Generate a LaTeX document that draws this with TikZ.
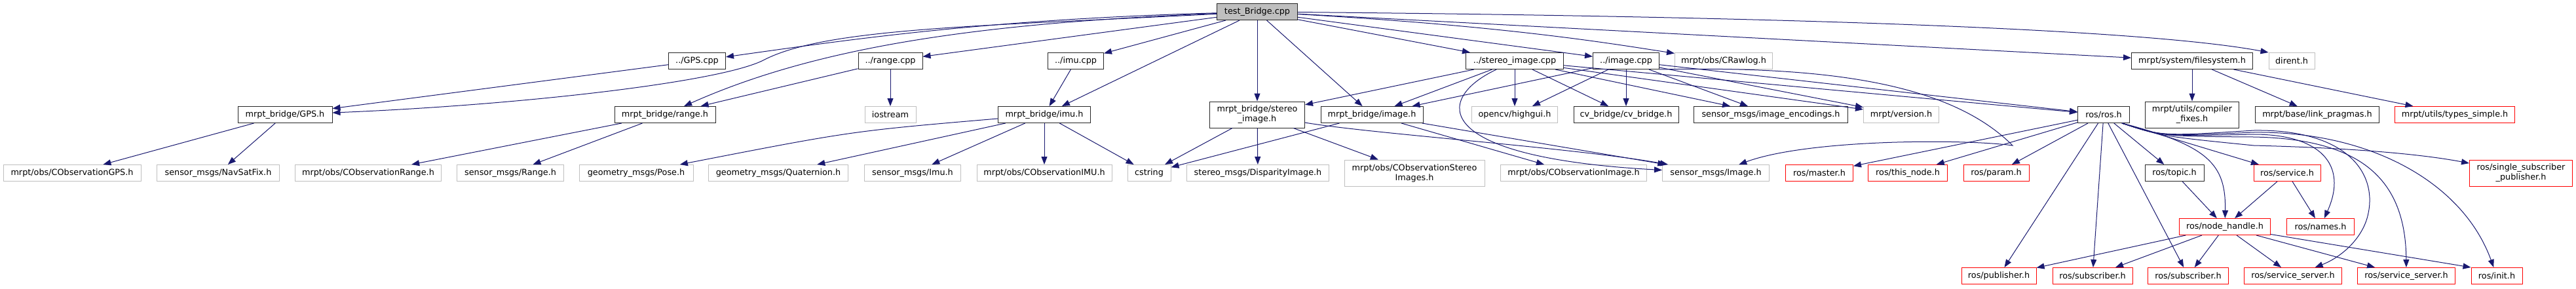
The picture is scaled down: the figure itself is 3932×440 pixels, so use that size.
\documentclass[tikz,border=0pt]{standalone}
\usepackage{fontspec}
\setmainfont{DejaVu Sans}
\usetikzlibrary{arrows.meta}
\definecolor{edgeblue}{HTML}{191970}
\definecolor{nodegrey}{HTML}{BFBFBF}

\begin{document}
\begin{tikzpicture}[x=1pt,y=-1pt,
    every node/.style={font=\fontsize{12.8}{15}\selectfont,minimum height=25pt,inner sep=3pt,align=center,line width=1pt},
    docfile/.style={draw=black!85},
    extfile/.style={draw=nodegrey},
    cutfile/.style={draw=red},
    incl/.style={draw=edgeblue,line width=1pt,-{Triangle[length=12pt,width=9pt]}}]
  \path[use as bounding box,fill=white] (0,0) rectangle (3932,440);

  % the test file and the sources it pulls in
  \node[docfile,fill=nodegrey,minimum width=123pt] (tb) at (1919,18) {test\_Bridge.cpp};
  \node[docfile,minimum width=87pt] (gpscpp) at (1064,93) {../GPS.cpp};
  \node[docfile,minimum width=98pt] (rangecpp) at (1359,93) {../range.cpp};
  \node[docfile,minimum width=85pt] (imucpp) at (1642,93) {../imu.cpp};
  \node[docfile,minimum width=149pt] (stereocpp) at (2312,93) {../stereo\_image.cpp};
  \node[docfile,minimum width=101pt] (imagecpp) at (2482,93) {../image.cpp};
  \node[extfile,minimum width=149pt] (crawlog) at (2631,93) {mrpt/obs/CRawlog.h};
  \node[docfile,minimum width=185pt] (filesys) at (3346,93) {mrpt/system/filesystem.h};
  \node[extfile,minimum width=70pt] (dirent) at (3498,93) {dirent.h};

  % second row
  \node[docfile,minimum width=144pt] (gpsh) at (435,175) {mrpt\_bridge/GPS.h};
  \node[docfile,minimum width=154pt] (rangeh) at (1015,175) {mrpt\_bridge/range.h};
  \node[extfile,minimum width=78pt] (iostream) at (1359,175) {iostream};
  \node[docfile,minimum width=141pt] (imuh) at (1594,175) {mrpt\_bridge/imu.h};
  \node[docfile,minimum width=145pt,minimum height=40pt] (stereoh) at (1919,175) {mrpt\_bridge/stereo\\\_image.h};
  \node[docfile,minimum width=156pt] (imageh) at (2094,175) {mrpt\_bridge/image.h};
  \node[extfile,minimum width=131pt] (highgui) at (2312,175) {opencv/highgui.h};
  \node[docfile,minimum width=160pt] (cvbridge) at (2482,175) {cv\_bridge/cv\_bridge.h};
  \node[docfile,minimum width=235pt] (encodings) at (2703,175) {sensor\_msgs/image\_encodings.h};
  \node[extfile,minimum width=115pt] (version) at (2902,175) {mrpt/version.h};
  \node[docfile,minimum width=79pt] (rosh) at (3211,175) {ros/ros.h};
  \node[docfile,minimum width=143pt,minimum height=40pt] (compfix) at (3346,175) {mrpt/utils/compiler\\\_fixes.h};
  \node[docfile,minimum width=189pt] (linkprag) at (3537,175) {mrpt/base/link\_pragmas.h};
  \node[cutfile,minimum width=183pt] (typessimple) at (3747,175) {mrpt/utils/types\_simple.h};

  % third row
  \node[extfile,minimum width=210pt] (obsgps) at (110,264) {mrpt/obs/CObservationGPS.h};
  \node[extfile,minimum width=187pt] (navsat) at (333,264) {sensor\_msgs/NavSatFix.h};
  \node[extfile,minimum width=223pt] (obsrange) at (562,264) {mrpt/obs/CObservationRange.h};
  \node[extfile,minimum width=163pt] (rangemsg) at (779,264) {sensor\_msgs/Range.h};
  \node[extfile,minimum width=174pt] (pose) at (971,264) {geometry\_msgs/Pose.h};
  \node[extfile,minimum width=213pt] (quat) at (1188,264) {geometry\_msgs/Quaternion.h};
  \node[extfile,minimum width=147pt] (imumsg) at (1393,264) {sensor\_msgs/Imu.h};
  \node[extfile,minimum width=206pt] (obsimu) at (1594,264) {mrpt/obs/CObservationIMU.h};
  \node[extfile,minimum width=66pt] (cstring) at (1754,264) {cstring};
  \node[extfile,minimum width=217pt] (disparity) at (1920,264) {stereo\_msgs/DisparityImage.h};
  \node[extfile,minimum width=214pt,minimum height=40pt] (obsstereo) at (2159,264) {mrpt/obs/CObservationStereo\\Images.h};
  \node[extfile,minimum width=223pt] (obsimage) at (2402,264) {mrpt/obs/CObservationImage.h};
  \node[extfile,minimum width=163pt] (imagemsg) at (2619,264) {sensor\_msgs/Image.h};
  \node[cutfile,minimum width=103pt] (master) at (2777,264) {ros/master.h};
  \node[cutfile,minimum width=121pt] (thisnode) at (2912,264) {ros/this\_node.h};
  \node[cutfile,minimum width=100pt] (param) at (3047,264) {ros/param.h};
  \node[docfile,minimum width=90pt] (topic) at (3319,264) {ros/topic.h};
  \node[cutfile,minimum width=102pt] (service) at (3491,264) {ros/service.h};
  \node[cutfile,minimum width=157pt,minimum height=40pt] (singlesub) at (3848,264) {ros/single\_subscriber\\\_publisher.h};

  % lower ros rows
  \node[cutfile,minimum width=139pt] (nodehandle) at (3396,346) {ros/node\_handle.h};
  \node[cutfile,minimum width=103pt] (names) at (3542,346) {ros/names.h};
  \node[cutfile,minimum width=114pt] (publisher) at (3051,421) {ros/publisher.h};
  \node[cutfile,minimum width=122pt] (sub1) at (3194,421) {ros/subscriber.h};
  \node[cutfile,minimum width=123pt] (sub2) at (3340,421) {ros/subscriber.h};
  \node[cutfile,minimum width=149pt] (srv1) at (3500,421) {ros/service\_server.h};
  \node[cutfile,minimum width=149pt] (srv2) at (3673,421) {ros/service\_server.h};
  \node[cutfile,minimum width=78pt] (init) at (3811,421) {ros/init.h};

  % includes of test_Bridge.cpp
  \draw[incl] (tb) .. controls (1500,30) and (1300,60) .. (gpscpp);
  \draw[incl] (tb) .. controls (1500,40) and (1260,42) .. (1165,92) .. controls (1100,125) and (800,160) .. (gpsh);
  \draw[incl] (tb) .. controls (1500,35) and (1250,70) .. (rangeh);
  \draw[incl] (tb) -- (rangecpp);
  \draw[incl] (tb) -- (imucpp);
  \draw[incl] (tb) -- (imuh);
  \draw[incl] (tb) -- (stereoh);
  \draw[incl] (tb) -- (imageh);
  \draw[incl] (tb) -- (stereocpp);
  \draw[incl] (tb) -- (imagecpp);
  \draw[incl] (tb) .. controls (2300,40) and (2450,65) .. (crawlog);
  \draw[incl] (tb) -- (filesys);
  \draw[incl] (tb) .. controls (2600,24) and (3250,40) .. (dirent.north west);

  % includes of the .cpp files
  \draw[incl] (gpscpp) -- (gpsh);
  \draw[incl] (rangecpp) -- (rangeh);
  \draw[incl] (rangecpp) -- (iostream);
  \draw[incl] (imucpp) -- (imuh);
  \draw[incl] (stereocpp) -- (stereoh);
  \draw[incl] (stereocpp) -- (imageh);
  \draw[incl] (stereocpp) -- (highgui);
  \draw[incl] (stereocpp) -- (cvbridge);
  \draw[incl] (stereocpp) -- (encodings);
  \draw[incl] (stereocpp) -- (version);
  \draw[incl] (stereocpp) -- (rosh);
  \draw[incl] (stereocpp) .. controls (2190,150) and (2180,240) .. (imagemsg);
  \draw[incl] (imagecpp) -- (imageh);
  \draw[incl] (imagecpp) -- (highgui);
  \draw[incl] (imagecpp) -- (cvbridge);
  \draw[incl] (imagecpp) -- (encodings);
  \draw[incl] (imagecpp) -- (version);
  \draw[incl] (imagecpp) -- (rosh);
  \draw[incl] (imagecpp.south east) .. controls (2800,100) and (2980,130) .. (3072,222) .. controls (3000,212) and (2760,212) .. (imagemsg);

  % includes of the bridge headers
  \draw[incl] (gpsh) -- (obsgps);
  \draw[incl] (gpsh) -- (navsat);
  \draw[incl] (rangeh) -- (obsrange);
  \draw[incl] (rangeh) -- (rangemsg);
  \draw[incl] (imuh) .. controls (1300,200) .. (pose);
  \draw[incl] (imuh) -- (quat);
  \draw[incl] (imuh) -- (imumsg);
  \draw[incl] (imuh) -- (obsimu);
  \draw[incl] (imuh) -- (cstring);
  \draw[incl] (stereoh) -- (cstring);
  \draw[incl] (stereoh) -- (disparity);
  \draw[incl] (stereoh) -- (obsstereo);
  \draw[incl] (stereoh) .. controls (2100,205) and (2400,225) .. (imagemsg);
  \draw[incl] (imageh) -- (cstring);
  \draw[incl] (imageh) -- (obsimage);
  \draw[incl] (imageh) -- (imagemsg);

  % mrpt system header
  \draw[incl] (filesys) -- (compfix);
  \draw[incl] (filesys) -- (linkprag);
  \draw[incl] (filesys) -- (typessimple);

  % ros headers
  \draw[incl] (rosh) -- (master);
  \draw[incl] (rosh) -- (thisnode);
  \draw[incl] (rosh) -- (param);
  \draw[incl] (rosh) -- (publisher);
  \draw[incl] (rosh) -- (sub1);
  \draw[incl] (rosh) -- (sub2);
  \draw[incl] (rosh) -- (topic);
  \draw[incl] ([xshift=-12pt]rosh.south east) .. controls (3370,222) and (3398,250) .. (nodehandle);
  \draw[incl] ([xshift=-12pt]rosh.south east) -- (service);
  \draw[incl] ([xshift=-12pt]rosh.south east) .. controls (3300,208) .. (3440,205) .. controls (3540,205) and (3585,250) .. (names);
  \draw[incl] ([xshift=-12pt]rosh.south east) .. controls (3300,208) .. (3440,199) .. controls (3580,197) and (3628,262) .. (3615,325) .. controls (3608,362) and (3575,392) .. (srv1);
  \draw[incl] ([xshift=-12pt]rosh.south east) .. controls (3300,208) .. (3440,209) .. controls (3600,212) and (3672,270) .. (srv2);
  \draw[incl] ([xshift=-12pt]rosh.south east) .. controls (3300,208) .. (3440,202) .. controls (3620,200) and (3760,280) .. (init);
  \draw[incl] ([xshift=-12pt]rosh.south east) .. controls (3300,208) .. (3440,222) .. controls (3600,226) and (3700,236) .. (singlesub);
  \draw[incl] (topic) -- (nodehandle);
  \draw[incl] (service) -- (nodehandle);
  \draw[incl] (service) -- (names);
  \draw[incl] (nodehandle) -- (publisher);
  \draw[incl] (nodehandle) -- (sub1);
  \draw[incl] (nodehandle) -- (sub2);
  \draw[incl] (nodehandle) -- (srv1);
  \draw[incl] (nodehandle) -- (srv2);
  \draw[incl] (nodehandle) -- (init.north west);
\end{tikzpicture}
\end{document}
